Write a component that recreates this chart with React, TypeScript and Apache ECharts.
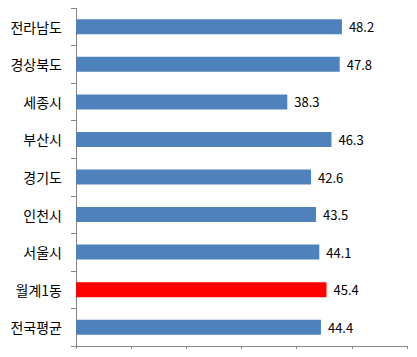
import React, { useEffect, useRef } from "react";
import * as echarts from "echarts";

const categories = ["전라남도", "경상북도", "세종시", "부산시", "경기도", "인천시", "서울시", "월계1동", "전국평균"];
const values = [48.2, 47.8, 38.3, 46.3, 42.6, 43.5, 44.1, 45.4, 44.4];
const highlight = "월계1동";
const axisMin = 0;
const axisMax = 60;
const axisStep = 10;

export default function App() {
  const ref = useRef<HTMLDivElement>(null);
  useEffect(() => {
    if (!ref.current) return;
    const chart = echarts.init(ref.current, null, { renderer: "svg" });
    const font = '"Noto Sans CJK KR", "Noto Sans", sans-serif';
    chart.setOption({
      animation: false,
      grid: { left: 76, right: 10, top: 8, bottom: 11, containLabel: false },
      xAxis: {
        type: "value",
        min: axisMin,
        max: axisMax,
        interval: axisStep,
        axisLine: { show: true, lineStyle: { color: "#868686", width: 1 } },
        axisTick: { show: true, length: 4, lineStyle: { color: "#868686" } },
        axisLabel: { show: false },
        splitLine: { show: false },
      },
      yAxis: {
        type: "category",
        data: categories,
        inverse: true,
        axisLine: { show: true, lineStyle: { color: "#868686", width: 1 } },
        axisTick: { show: true, length: 5, alignWithLabel: false, lineStyle: { color: "#868686" } },
        axisLabel: { color: "#000", fontSize: 14, fontFamily: font, margin: 14 },
      },
      series: [
        {
          type: "bar",
          barWidth: 15,
          data: values.map((v, i) => ({
            value: v,
            itemStyle: { color: categories[i] === highlight ? "#FF0000" : "#4F81BD" },
          })),
          label: {
            show: true,
            position: "right",
            distance: 7,
            color: "#000",
            fontSize: 13,
            fontFamily: font,
            formatter: (p: any) => Number(p.value).toFixed(1),
          },
        },
      ],
    });
    return () => chart.dispose();
  }, []);
  return <div ref={ref} style={{ width: 417, height: 357, margin: -8 }} />;
}
